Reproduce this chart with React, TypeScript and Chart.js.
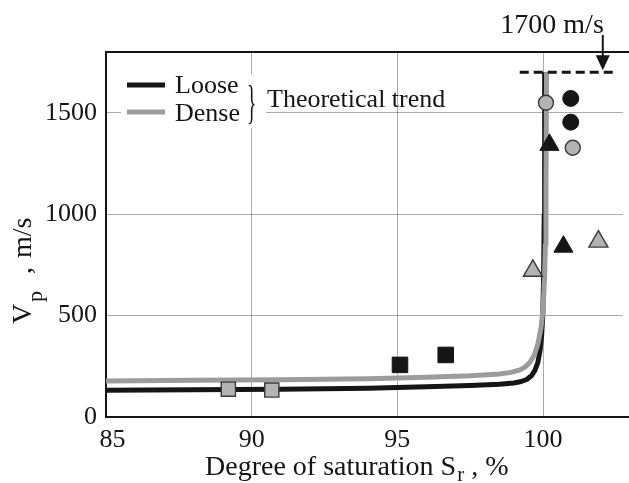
import React, { useEffect, useRef } from "react";
import { Chart, registerables } from "chart.js";

Chart.register(...registerables);

// ---- data ----
const xTicks = [85, 90, 95, 100];
const yTicks = [0, 500, 1000, 1500];

const looseX = [85, 88, 91, 94, 96, 97.5, 98.5, 99.0, 99.25, 99.44, 99.6, 99.72, 99.82, 99.9, 99.95, 99.99, 100.02, 100.04, 100.05, 100.06];
const looseY = [132, 134, 137, 142, 149, 155, 161, 168, 175, 185, 203, 230, 268, 330, 400, 500, 700, 1000, 1300, 1700];

const denseX = [85, 88, 91, 94, 96, 97.5, 98.5, 98.9, 99.21, 99.4, 99.55, 99.7, 99.83, 99.93, 100.0, 100.05, 100.08, 100.1, 100.12];
const denseY = [178, 181, 184, 189, 196, 203, 212, 220, 232, 248, 270, 305, 365, 440, 530, 680, 850, 1100, 1700];

const graySquareX = [89.2, 90.69];
const graySquareY = [137, 133];
const blackSquareX = [95.09, 96.66];
const blackSquareY = [257, 306];
const grayTriangleX = [99.65, 101.9];
const grayTriangleY = [721, 865];
const blackTriangleX = [100.22, 100.7];
const blackTriangleY = [1342, 840];
const grayCircleX = [100.1, 101.02];
const grayCircleY = [1550, 1328];
const blackCircleX = [100.95, 100.95];
const blackCircleY = [1571, 1454];

const limitX = [99.2, 102.5];
const limitY = [1700, 1700];
const limitLabel = "1700 m/s";
const arrowX = 102.05;

const legendLabels = ["Loose", "Dense"];
const legendNote = "Theoretical trend";

const SERIF = '"Liberation Serif", "Times New Roman", serif';
const INK = "#151515";
const GRAY_LINE = "#9c9c9c";
const GRAY_FILL = "#b3b3b3";

const pairs = (xs: number[], ys: number[]) => xs.map((x, i) => ({ x, y: ys[i] }));

const overlay = {
  id: "overlay",
  afterDraw(chart: any) {
    const ctx = chart.ctx as CanvasRenderingContext2D;
    const { left, right, top, bottom } = chart.chartArea;
    const xs = chart.scales.x;
    const ys = chart.scales.y;
    ctx.save();

    // the frame is open on its right side (cropped in the reference)
    ctx.fillStyle = "#ffffff";
    ctx.fillRect(right - 6, top + 2, 8, bottom - top - 4);

    // top frame line
    ctx.strokeStyle = INK;
    ctx.lineWidth = 2;
    ctx.beginPath();
    ctx.moveTo(left - 1, top);
    ctx.lineTo(right, top);
    ctx.stroke();

    // legend
    ctx.fillStyle = "#ffffff";
    ctx.fillRect(121, 74, 145, 54);
    ctx.lineWidth = 5;
    ctx.strokeStyle = INK;
    ctx.beginPath();
    ctx.moveTo(127, 85);
    ctx.lineTo(165, 85);
    ctx.stroke();
    ctx.strokeStyle = GRAY_LINE;
    ctx.beginPath();
    ctx.moveTo(127, 112);
    ctx.lineTo(165, 112);
    ctx.stroke();
    ctx.fillStyle = INK;
    ctx.textAlign = "left";
    ctx.textBaseline = "alphabetic";
    ctx.font = `26px ${SERIF}`;
    ctx.fillText(legendLabels[0], 175, 93);
    ctx.fillText(legendLabels[1], 175, 121);
    ctx.fillText(legendNote, 267, 107);
    ctx.save();
    ctx.translate(247, 118);
    ctx.scale(0.42, 1);
    ctx.font = `46px ${SERIF}`;
    ctx.fillText("}", 0, 0);
    ctx.restore();

    // arrow to the 1700 m/s line
    const ax = xs.getPixelForValue(arrowX);
    const ay = ys.getPixelForValue(limitY[0]) - 2;
    ctx.strokeStyle = INK;
    ctx.lineWidth = 2;
    ctx.beginPath();
    ctx.moveTo(ax, 35);
    ctx.lineTo(ax, ay - 12);
    ctx.stroke();
    ctx.fillStyle = INK;
    ctx.beginPath();
    ctx.moveTo(ax - 7, ay - 15);
    ctx.lineTo(ax + 7, ay - 15);
    ctx.lineTo(ax, ay);
    ctx.closePath();
    ctx.fill();
    ctx.font = `28px ${SERIF}`;
    ctx.textAlign = "right";
    ctx.fillText(limitLabel, ax + 1, 33);

    // x axis title with subscript
    ctx.textAlign = "left";
    ctx.font = `28px ${SERIF}`;
    let tx = 205;
    const tyBase = 475;
    ctx.fillText("Degree of saturation S", tx, tyBase);
    tx += ctx.measureText("Degree of saturation S").width + 1;
    ctx.font = `21px ${SERIF}`;
    ctx.fillText("r", tx, tyBase + 6);
    tx += ctx.measureText("r").width;
    ctx.font = `28px ${SERIF}`;
    ctx.fillText(" , %", tx, tyBase);

    // y axis title with subscript (rotated)
    ctx.save();
    ctx.translate(31, 324);
    ctx.rotate(-Math.PI / 2);
    ctx.font = `28px ${SERIF}`;
    ctx.fillText("V", 0, 0);
    ctx.font = `22px ${SERIF}`;
    ctx.fillText("p", 22, 11);
    ctx.font = `28px ${SERIF}`;
    ctx.fillText(",", 50, 0);
    ctx.fillText("m/s", 66, 0);
    ctx.restore();

    ctx.restore();
  },
};

export default function App() {
  const ref = useRef<HTMLCanvasElement | null>(null);

  useEffect(() => {
    document.body.style.margin = "0";
    document.body.style.overflow = "hidden";
    if (!ref.current) return;
    const markerBase = { showLine: false, order: 0 };
    const chart = new Chart(ref.current, {
      type: "scatter",
      data: {
        datasets: [
          {
            ...markerBase,
            data: pairs(graySquareX, graySquareY),
            pointStyle: "rect",
            pointRadius: 10,
            backgroundColor: GRAY_FILL,
            borderColor: "#3a3a3a",
            borderWidth: 1.4,
          },
          {
            ...markerBase,
            data: pairs(blackSquareX, blackSquareY),
            pointStyle: "rect",
            pointRadius: 11,
            backgroundColor: INK,
            borderColor: INK,
            borderWidth: 1,
          },
          {
            ...markerBase,
            data: pairs(grayTriangleX, grayTriangleY),
            pointStyle: "triangle",
            pointRadius: 11,
            backgroundColor: GRAY_FILL,
            borderColor: "#3a3a3a",
            borderWidth: 1.4,
          },
          {
            ...markerBase,
            data: pairs(blackTriangleX, blackTriangleY),
            pointStyle: "triangle",
            pointRadius: 11,
            backgroundColor: INK,
            borderColor: INK,
            borderWidth: 1,
          },
          {
            ...markerBase,
            data: pairs(grayCircleX, grayCircleY),
            pointStyle: "circle",
            pointRadius: 7.5,
            backgroundColor: GRAY_FILL,
            borderColor: "#3a3a3a",
            borderWidth: 1.4,
          },
          {
            ...markerBase,
            data: pairs(blackCircleX, blackCircleY),
            pointStyle: "circle",
            pointRadius: 8,
            backgroundColor: INK,
            borderColor: INK,
            borderWidth: 1,
          },
          {
            data: pairs(limitX, limitY),
            showLine: true,
            pointRadius: 0,
            borderColor: INK,
            borderWidth: 3,
            borderDash: [9, 5],
            order: 1,
          },
          {
            data: pairs(denseX, denseY),
            showLine: true,
            pointRadius: 0,
            borderColor: GRAY_LINE,
            borderWidth: 5,
            tension: 0,
            borderJoinStyle: "round",
            order: 2,
          },
          {
            data: pairs(looseX, looseY),
            showLine: true,
            pointRadius: 0,
            borderColor: INK,
            borderWidth: 5,
            tension: 0,
            borderJoinStyle: "round",
            order: 3,
          },
        ] as any,
      },
      options: {
        responsive: false,
        animation: false,
        layout: { autoPadding: false, padding: { top: 52, left: 0, right: 0, bottom: 0 } },
        plugins: { legend: { display: false }, tooltip: { enabled: false } },
        scales: {
          x: {
            type: "linear",
            min: 85,
            max: 102.95,
            afterBuildTicks: (s: any) => {
              s.ticks = xTicks.map((v) => ({ value: v }));
            },
            afterFit: (s: any) => {
              s.height = 66;
            },
            grid: { color: "rgba(0,0,0,0.33)", lineWidth: 1, drawTicks: false },
            border: { color: INK, width: 2 },
            ticks: {
              font: { family: SERIF, size: 26 },
              color: INK,
              padding: 8,
              callback: (v: any) => (v === xTicks[0] ? "  " + v : String(v)),
            },
          },
          y: {
            type: "linear",
            min: 0,
            max: 1800,
            afterBuildTicks: (s: any) => {
              s.ticks = yTicks.map((v) => ({ value: v }));
            },
            afterFit: (s: any) => {
              s.width = 106;
            },
            grid: { color: "rgba(0,0,0,0.33)", lineWidth: 1, drawTicks: false },
            border: { color: INK, width: 2 },
            ticks: {
              font: { family: SERIF, size: 26 },
              color: INK,
              padding: 9,
              callback: (v: any) => String(v),
            },
          },
        },
      },
      plugins: [overlay],
    });
    return () => chart.destroy();
  }, []);

  return (
    <div style={{ position: "fixed", left: 0, top: 0, width: 629, height: 483, background: "#fff" }}>
      <canvas ref={ref} width={629} height={483} style={{ display: "block", width: 629, height: 483 }} />
    </div>
  );
}
